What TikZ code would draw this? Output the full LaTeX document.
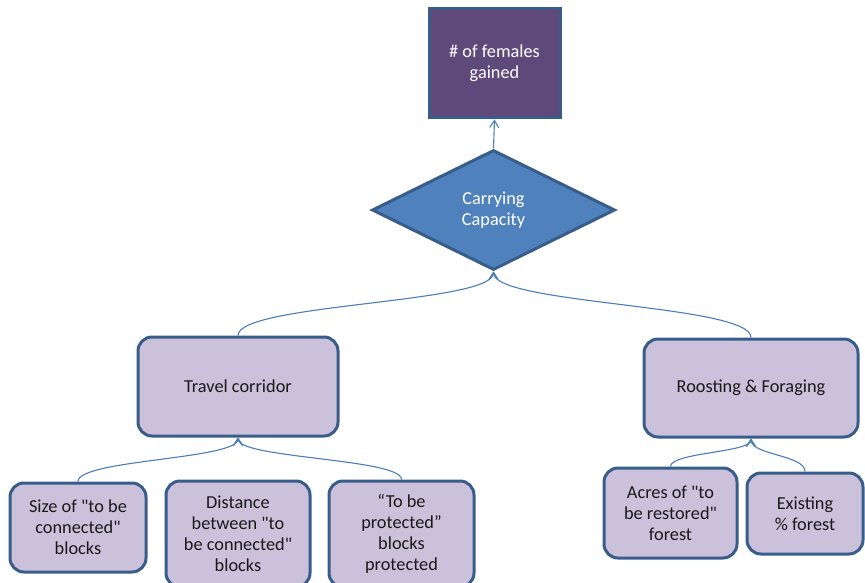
\documentclass[tikz,border=0pt]{standalone}
\usepackage{fontspec}
\setmainfont{Carlito}[Ligatures=TeXOff]
\usetikzlibrary{shapes.geometric,arrows.meta,calc}
\definecolor{edgeblue}{HTML}{385D8A}
\definecolor{linkblue}{HTML}{4A7EBB}
\definecolor{goalpurple}{HTML}{5F497A}
\definecolor{hubblue}{HTML}{4F81BD}
\definecolor{lavender}{HTML}{CCC1DA}
\tikzset{
  x=1pt, y=-1pt,
  every node/.style={font=\fontsize{18.3}{21}\selectfont, align=center, inner sep=0pt},
  goalbox/.style={draw=edgeblue, line width=3pt, fill=goalpurple, text=white,
    minimum width=131pt, minimum height=109pt},
  hub/.style={diamond, draw=edgeblue, line width=3pt, fill=hubblue, text=white,
    aspect=2.03, minimum width=243pt, minimum height=120pt},
  factor/.style={draw=edgeblue, line width=3pt, fill=lavender, rounded corners=14pt,
    text=black!90},
  conn/.style={draw=linkblue, line width=1.1pt,
    -{Straight Barb[length=7pt,width=9pt,line width=1.1pt]},
    to path={let \p1=(\tikztostart), \p2=(\tikztotarget) in
      .. controls (\x1,{(\y1+\y2)/2}) and (\x2,{(\y1+\y2)/2}) .. (\tikztotarget)}},
}
\begin{document}
\begin{tikzpicture}
\useasboundingbox (0,0) rectangle (865,583);

% outcome and the capacity that drives it
\node[goalbox] (goal) at (494.5,63.5) {\# of females\\gained};
\node[hub] (cap) at (493.5,210) {Carrying\\Capacity};

% main habitat factors
\node[factor, minimum width=200pt, minimum height=99pt] (travel) at (238,386.5) {Travel corridor};
\node[factor, minimum width=214pt, minimum height=98pt] (roost) at (751,388) {Roosting \& Foraging};

% measures under the travel corridor
\node[factor, minimum width=136pt, minimum height=89pt] (size) at (78,527.5) {Size of "to be\\connected"\\blocks};
\node[factor, minimum width=144pt, minimum height=106pt] (dist) at (238,534) {Distance\\between "to\\be connected"\\blocks};
\node[factor, minimum width=145pt, minimum height=106pt] (prot) at (401.5,534) {“To be\\protected”\\blocks\\protected};

% measures under roosting and foraging
\node[factor, minimum width=133pt, minimum height=90pt] (acres) at (670.5,513) {Acres of "to\\be restored"\\forest};
\node[factor, minimum width=116pt, minimum height=81pt] (exist) at (805,513.5) {Existing\\\% forest};

% connectors
\draw[conn] (cap.north) -- (goal.south);
\draw[conn] (travel.north) to (cap.south);
\draw[conn] (roost.north) to (cap.south);
\draw[conn] (size.north) to (travel.south);
\draw[conn] (prot.north) to (travel.south);
\draw[conn] (acres.north) to (roost.south);
\draw[conn] (exist.north) to (roost.south);
\end{tikzpicture}
\end{document}
